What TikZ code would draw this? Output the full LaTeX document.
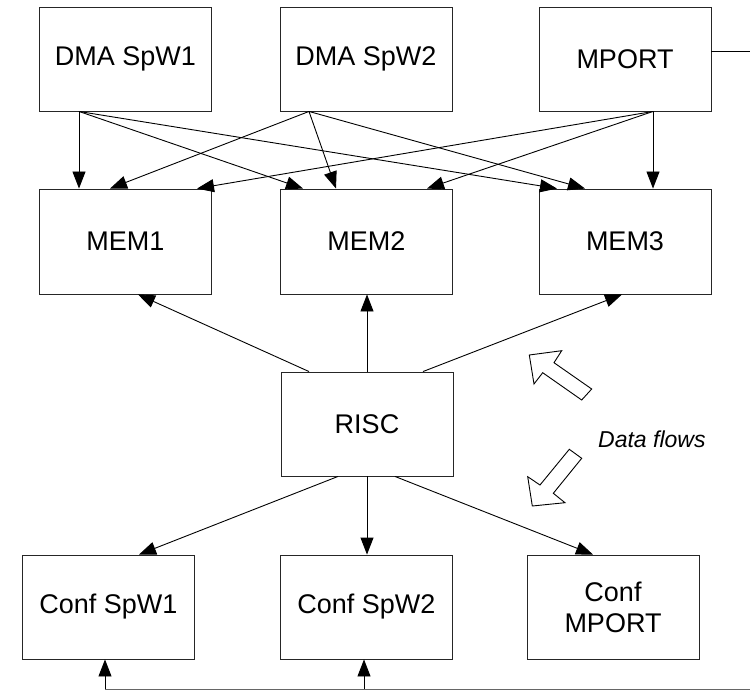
\documentclass[tikz,border=0pt]{standalone}
\usepackage{fontspec}
\setmainfont{Liberation Sans}
\usetikzlibrary{arrows.meta}

\tikzset{
  unit/.style={draw=black!85, line width=0.9pt, rectangle, inner sep=0pt,
    minimum width=172pt, minimum height=104pt, align=center,
    font=\fontsize{27}{31}\selectfont},
  flow/.style={line width=0.9pt, -{Triangle[length=17pt,width=13pt]}},
  hollow/.style={draw=black, line width=0.9pt, fill=white, line join=miter}
}

\begin{document}
\begin{tikzpicture}[x=1pt, y=-1pt]
  \useasboundingbox (0,0) rectangle (750,690);

  % sources
  \node[unit] (dma1) at (125.5,59) {DMA SpW1};
  \node[unit] (dma2) at (366,59) {DMA SpW2};
  \node[unit] (mport) at (625,59) {MPORT};

  % memories
  \node[unit, minimum height=105pt] (mem1) at (125.5,241.5) {MEM1};
  \node[unit, minimum height=105pt] (mem2) at (366.5,241.5) {MEM2};
  \node[unit, minimum height=105pt] (mem3) at (625,241.5) {MEM3};

  % processor
  \node[unit] (risc) at (367,424) {RISC};

  % configuration blocks
  \node[unit] (conf1) at (108.5,607) {Conf SpW1};
  \node[unit] (conf2) at (366.5,607) {Conf SpW2};
  \node[unit] (conf3) at (613,607) {Conf\\MPORT};

  % DMA / MPORT to memories
  \draw[flow] ([xshift=-46.5pt]dma1.south) -- ([xshift=-46.5pt]mem1.north);
  \draw[flow] ([xshift=-46.5pt]dma1.south) -- ([xshift=-63.5pt]mem2.north);
  \draw[flow] ([xshift=-46.5pt]dma1.south) -- ([xshift=-68pt]mem3.north);

  \draw[flow] ([xshift=-57pt]dma2.south) -- ([xshift=-15.5pt]mem1.north);
  \draw[flow] ([xshift=-57pt]dma2.south) -- ([xshift=-30.5pt]mem2.north);
  \draw[flow] ([xshift=-57pt]dma2.south) -- ([xshift=-40pt]mem3.north);

  \draw[flow] ([xshift=28pt]mport.south) -- ([xshift=71.5pt]mem1.north);
  \draw[flow] ([xshift=28pt]mport.south) -- ([xshift=60.5pt]mem2.north);
  \draw[flow] ([xshift=28pt]mport.south) -- ([xshift=28pt]mem3.north);

  % MPORT external link
  \coordinate (ext) at (750,51);
  \draw[line width=0.9pt] (mport.east |- ext) -- (ext);

  % RISC to memories
  \draw[flow] ([xshift=-58pt]risc.north) -- ([xshift=12.5pt]mem1.south);
  \draw[flow] (risc.north) -- ([xshift=0.5pt]mem2.south);
  \draw[flow] ([xshift=56pt]risc.north) -- ([xshift=-3pt]mem3.south);

  % RISC to configuration blocks
  \draw[flow] ([xshift=-29pt]risc.south) -- ([xshift=30.5pt]conf1.north);
  \draw[flow] (risc.south) -- ([xshift=0.5pt]conf2.north);
  \draw[flow] ([xshift=28pt]risc.south) -- ([xshift=-20pt]conf3.north);

  % configuration bus along the bottom
  \coordinate (b1) at (105,689);
  \coordinate (b2) at (364,689);
  \coordinate (bend) at (750,689);
  \draw[line width=0.9pt, draw=black!60] (b1) -- (bend);
  \draw[flow] (b1) -- (b1 |- conf1.south);
  \draw[flow] (b2) -- (b2 |- conf2.south);

  % data-flow direction markers
  \draw[hollow] (529.3,355) -- (561.7,350.7) -- (554,362.7) -- (591.7,389)
    -- (581.7,400) -- (542.7,372.7) -- (534,384) -- cycle;
  \draw[hollow] (569.3,449.3) -- (581.7,458.3) -- (553.3,493.3) -- (565,502.7)
    -- (532.3,506) -- (527.7,476.7) -- (540,485) -- cycle;
  \node[anchor=base west, inner sep=0pt, font=\fontsize{23}{27}\selectfont\itshape]
    (dflow) at (598,447) {Data flows};
\end{tikzpicture}
\end{document}
